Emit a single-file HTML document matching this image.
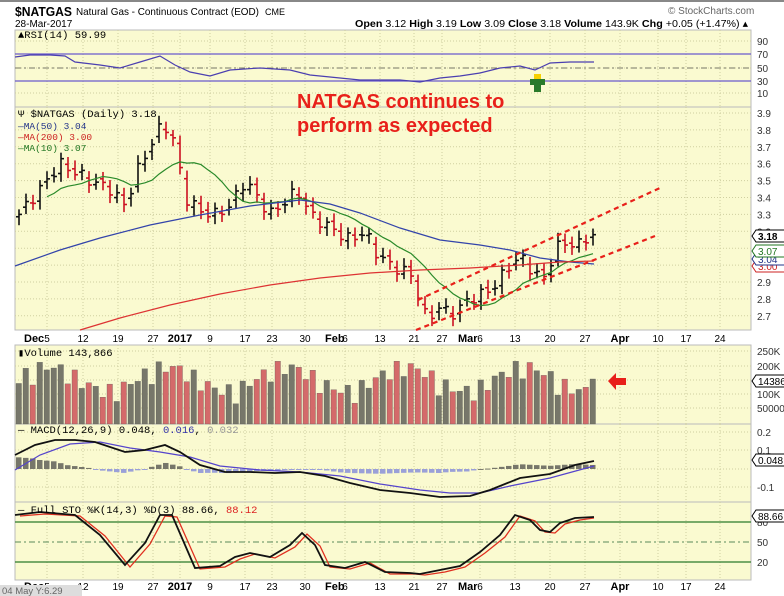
<!DOCTYPE html>
<html><head><meta charset="utf-8"><style>
body{margin:0;background:#fff;}
svg{display:block;font-family:"Liberation Sans",Arial,sans-serif;}
</style></head><body>
<svg id="s" width="784" height="596" viewBox="0 0 784 596" xmlns="http://www.w3.org/2000/svg">
<rect x="0" y="0" width="784" height="596" fill="#fff"/>
<rect x="0" y="0" width="784" height="2" fill="#888"/>
<g id="bg"></g>
<g id="grid" stroke="#cfcfa0" stroke-width="1" stroke-dasharray="1,2"></g>
<g id="main"></g>
<text x="15" y="16" font-size="13" font-weight="bold" textLength="57" lengthAdjust="spacingAndGlyphs">$NATGAS</text>
<text x="76" y="15" font-size="10.5" textLength="183" lengthAdjust="spacingAndGlyphs">Natural Gas - Continuous Contract (EOD)</text>
<text x="265" y="15" font-size="9">CME</text>
<text x="15" y="27" font-size="10">28-Mar-2017</text>
<text x="355" y="27" font-size="10.5" textLength="393" lengthAdjust="spacingAndGlyphs"><tspan font-weight="bold">Open</tspan> 3.12 <tspan font-weight="bold">High</tspan> 3.19 <tspan font-weight="bold">Low</tspan> 3.09 <tspan font-weight="bold">Close</tspan> 3.18 <tspan font-weight="bold">Volume</tspan> 143.9K <tspan font-weight="bold">Chg</tspan> +0.05 (+1.47%) ▴</text>
<text x="668" y="14" font-size="10" fill="#666">© StockCharts.com</text>
<text x="18" y="38" font-size="10.5" font-family="Liberation Mono,monospace">▲RSI(14) 59.99</text>
<text x="18" y="117" font-size="10.5" font-family="Liberation Mono,monospace">Ψ $NATGAS (Daily) 3.18</text>
<text x="18" y="129" font-size="9.5" font-family="Liberation Mono,monospace" fill="#223388">—MA(50) 3.04</text>
<text x="18" y="140" font-size="9.5" font-family="Liberation Mono,monospace" fill="#cc2222">—MA(200) 3.00</text>
<text x="18" y="151" font-size="9.5" font-family="Liberation Mono,monospace" fill="#227722">—MA(10) 3.07</text>
<text x="18" y="356" font-size="10.5" font-family="Liberation Mono,monospace">▮Volume 143,866</text>
<text x="18" y="433" font-size="10.5" font-family="Liberation Mono,monospace">— MACD(12,26,9) 0.048, <tspan fill="#3333aa">0.016</tspan>, <tspan fill="#999">0.032</tspan></text>
<text x="18" y="513" font-size="10.5" font-family="Liberation Mono,monospace">— Full STO %K(14,3) %D(3) 88.66, <tspan fill="#dd2222">88.12</tspan></text>
<text x="297" y="108" font-size="20" font-weight="bold" fill="#e8201a">NATGAS continues to</text>
<text x="297" y="132" font-size="20" font-weight="bold" fill="#e8201a">perform as expected</text>
<line x1="418" y1="300" x2="662" y2="187" stroke="#e8201a" stroke-width="2.2" stroke-dasharray="5,4"/>
<line x1="416" y1="330" x2="655" y2="236" stroke="#e8201a" stroke-width="2.2" stroke-dasharray="5,4"/>
<rect x="534" y="74" width="7" height="5" fill="#f5d000"/>
<polygon points="530,79 545,79 545,85 541,85 541,92 534,92 534,85 530,85" fill="#2a7a2a"/>
<polygon points="608,381 616,373 616,378 626,378 626,385 616,385 616,390" fill="#e8201a"/>
<rect x="0" y="585" width="82" height="11" fill="#ddd"/>
<text x="2" y="594" font-size="9.5" fill="#666">04 May Y:6.29</text>
</svg>
<script>
var S=document.getElementById('s'),NS='http://www.w3.org/2000/svg';
function el(p,t,a,txt){var e=document.createElementNS(NS,t);for(var k in a)e.setAttribute(k,a[k]);if(txt!==undefined)e.textContent=txt;(typeof p=='string'?document.getElementById(p):p).appendChild(e);return e;}
var L=15,R=751;
var panels=[[30,107],[107,330],[345,424],[424,502],[502,580]];
panels.forEach(function(p){el('bg','rect',{x:L,y:p[0],width:R-L,height:p[1]-p[0],fill:'#fafad0',stroke:'#bbb','stroke-width':1});});
var dl=[[47,'5'],[83,'12'],[118,'19'],[153,'27'],[180,'2017',1],[210,'9'],[245,'17'],[272,'23'],[305,'30'],[345,'6'],[380,'13'],[414,'21'],[442,'27'],[480,'6'],[515,'13'],[550,'20'],[585,'27'],[620,'Apr',1],[658,'10'],[686,'17'],[720,'24']];
dl.forEach(function(d){for(var i=0;i<panels.length;i++){el('grid','line',{x1:d[0],y1:panels[i][0],x2:d[0],y2:panels[i][1]});}});
function axis(y){dl.forEach(function(d){el('main','text',{x:d[0],y:y,'font-size':d[2]?11:10,'font-weight':d[2]?'bold':'normal','text-anchor':'middle'},d[1]);});
el('main','text',{x:24,y:y,'font-size':11,'font-weight':'bold'},'Dec');el('main','text',{x:325,y:y,'font-size':11,'font-weight':'bold'},'Feb');el('main','text',{x:458,y:y,'font-size':11,'font-weight':'bold'},'Mar');}
axis(342);axis(590);
function rl(y,t){el('main','text',{x:757,y:y+4,'font-size':10,fill:'#333'},t);}
function hg(y){el('grid','line',{x1:L,y1:y,x2:R,y2:y});}
[[41,'90'],[54,'70'],[68,'50'],[81,'30'],[93,'10']].forEach(function(a){rl(a[0],a[1]);hg(a[0]);});
el('main','line',{x1:L,y1:54,x2:R,y2:54,stroke:'#6a5acd','stroke-width':1.3});
el('main','line',{x1:L,y1:81,x2:R,y2:81,stroke:'#6a5acd','stroke-width':1.3});
el('main','line',{x1:L,y1:68,x2:R,y2:68,stroke:'#776','stroke-width':1,'stroke-dasharray':'6,3,2,3'});
function pl(pts,c,w){el('main','polyline',{points:pts.map(function(p){return p.join(',')}).join(' '),fill:'none',stroke:c,'stroke-width':w||1.2});}
pl([[15,57],[30,55],[50,55],[65,56],[75,62],[100,65],[120,68],[140,62],[160,56],[175,65],[190,72],[210,76],[230,70],[260,68],[290,70],[310,75],[330,77],[360,80],[380,80],[400,80],[420,82],[440,78],[460,76],[480,73],[500,68],[520,66],[535,70],[550,63],[570,62],[594,62]],'#4b3fb0',1.2);
function py(p){return 113+(3.9-p)*169;}
for(var v=2.7;v<3.95;v+=0.1){var y=py(v);hg(y);rl(y,v.toFixed(1));}
var kp=[[19,3.3],[40,3.45],[60,3.6],[75,3.55],[90,3.5],[110,3.45],[125,3.35],[140,3.6],[150,3.7],[163,3.85],[175,3.72],[185,3.4],[200,3.32],[215,3.3],[230,3.35],[245,3.5],[260,3.38],[270,3.3],[290,3.4],[297,3.45],[310,3.3],[330,3.22],[350,3.15],[365,3.2],[375,3.08],[390,3.0],[410,2.95],[420,2.8],[427,2.67],[440,2.76],[450,2.7],[470,2.8],[490,2.85],[500,2.92],[510,3.0],[520,3.05],[535,2.95],[545,2.92],[555,3.1],[565,3.13],[580,3.12],[586,3.16],[594,3.18]];
function interp(x,k){for(var i=1;i<k.length;i++)if(x<=k[i][0]){var a=k[i-1],b=k[i];return a[1]+(b[1]-a[1])*(x-a[0])/(b[0]-a[0]);}return k[k.length-1][1];}
var C=[],X=[];for(var i=0;i<83;i++){var x=19+7*i;X.push(x);C.push(interp(x,kp)+0.035*Math.sin(i*2.3));}
C[82]=3.18;
for(i=0;i<83;i++){var pc=i?C[i-1]:C[0]-0.02,c=C[i],o=pc+0.3*(c-pc)+0.02*Math.sin(i*1.7);var hi=Math.max(o,c)+0.03+0.02*Math.abs(Math.sin(i)),lo=Math.min(o,c)-0.03-0.02*Math.abs(Math.cos(i));
var col=c>=pc?'#111':'#cc1122';x=X[i];
el('main','line',{x1:x,y1:py(hi),x2:x,y2:py(lo),stroke:col,'stroke-width':1.6});
el('main','line',{x1:x-3,y1:py(o),x2:x,y2:py(o),stroke:col,'stroke-width':1.6});
el('main','line',{x1:x,y1:py(c),x2:x+3,y2:py(c),stroke:col,'stroke-width':1.6});}
var m10=[];for(i=0;i<83;i++){var s=0,n=0;for(var j=Math.max(0,i-9);j<=i;j++){s+=C[j];n++;}if(i>=4)m10.push([X[i],py(s/n)]);}
pl(m10,'#2a8a2a',1.2);
pl([[15,266],[60,250],[100,238],[150,225],[200,215],[250,206],[300,200],[330,204],[360,213],[400,228],[440,240],[480,245],[510,250],[540,258],[570,262],[594,264]],'#3344aa',1.2);
pl([[80,330],[120,318],[170,305],[220,294],[270,285],[320,278],[370,273],[420,270],[470,268],[520,265],[560,262],[594,261]],'#dd3333',1.2);
function tag(y,t,c,b){el('main','path',{d:'M752,'+y+' l4,-6 h40 v12 h-40 z',fill:'#fff',stroke:c});el('main','text',{x:758,y:y+4,'font-size':10,'font-weight':b?'bold':'normal',fill:c},t);}
tag(266,'3.00','#cc2222');tag(259,'3.04','#223388');tag(251,'3.07','#227722');tag(236,'3.18','#000',1);
[[351,'250K'],[366,'200K'],[380,'150K'],[394,'100K'],[408,'50000']].forEach(function(a){rl(a[0],a[1]);hg(a[0]);});
for(i=0;i<83;i++){var h=30+22*Math.abs(Math.sin(i*1.3+0.5))+12*Math.sin(i*0.37);if(i==82)h=45;var up=i==0||C[i]>=C[i-1];
el('main','rect',{x:X[i]-3,y:424-h,width:5.5,height:h,fill:up?'#77776a':'#d46a6a',stroke:'#555','stroke-width':0.3});}
tag(381,'143866','#000');
[[432,'0.2'],[450,'0.1'],[487,'-0.1']].forEach(function(a){rl(a[0],a[1]);hg(a[0]);});hg(469);
var mk=[[15,455],[35,445],[55,440],[75,440],[95,442],[125,452],[145,450],[165,445],[180,452],[200,465],[225,472],[250,472],[275,473],[300,472],[325,476],[350,483],[380,490],[410,493],[440,497],[470,496],[490,490],[520,478],[550,474],[575,465],[594,461]];
var sk=[[15,470],[40,455],[70,444],[100,442],[130,448],[160,452],[190,457],[220,466],[260,470],[300,472],[340,476],[380,484],[420,490],[450,493],[480,493],[510,486],[550,478],[594,466]];
for(i=0;i<83;i++){var d=(interp(X[i],sk)-interp(X[i],mk))*0.8;var y0=469;
el('main','rect',{x:X[i]-3,y:d>0?y0-d:y0,width:5.5,height:Math.max(1,Math.abs(d)),fill:d>0?'#77776a':'#9aa0d8'});}
pl(sk,'#5544cc',1.2);pl(mk,'#111',1.8);
tag(460,'0.048','#000');
[[522,'80'],[542,'50'],[562,'20']].forEach(function(a){rl(a[0],a[1]);});
el('main','line',{x1:L,y1:522,x2:R,y2:522,stroke:'#2a7a2a','stroke-width':1.2});
el('main','line',{x1:L,y1:562,x2:R,y2:562,stroke:'#2a7a2a','stroke-width':1.2});
el('main','line',{x1:L,y1:542,x2:R,y2:542,stroke:'#5a8a5a','stroke-width':1,'stroke-dasharray':'6,3,2,3'});
var kk=[[15,515],[40,512],[75,515],[100,535],[125,565],[145,543],[160,515],[172,515],[195,568],[220,566],[235,557],[250,553],[270,557],[290,545],[302,533],[315,545],[325,565],[345,568],[365,562],[385,572],[410,573],[420,574],[440,570],[460,566],[480,552],[500,535],[515,515],[530,520],[540,530],[550,532],[560,523],[575,518],[594,517]];
var dk=kk.map(function(p,i){return [p[0]+5,p[1]+(i%3==1?2:1)];});dk[dk.length-1]=[594,518];
pl(dk,'#e03020',1.3);pl(kk,'#111',1.8);
tag(516,'88.66','#000');
</script>
</body></html>
